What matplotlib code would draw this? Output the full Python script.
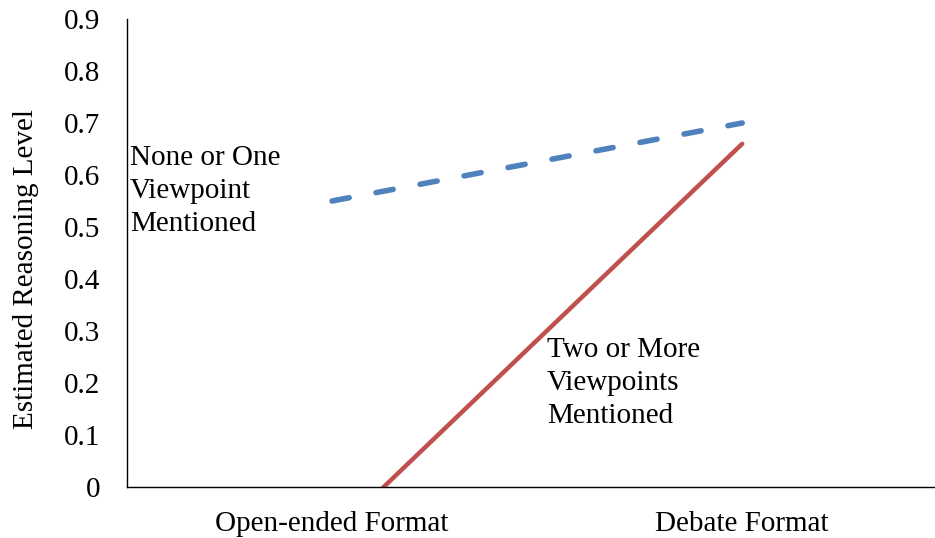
import matplotlib.pyplot as plt

plt.rcParams['font.family'] = ['Liberation Serif', 'DejaVu Serif']

formats = ['Open-ended Format', 'Debate Format']
none_or_one = [0.55, 0.70]
two_or_more = [-0.095, 0.66]
yticks = [0, 0.1, 0.2, 0.3, 0.4, 0.5, 0.6, 0.7, 0.8, 0.9]
ytick_labels = ['0', '0.1', '0.2', '0.3', '0.4', '0.5', '0.6', '0.7', '0.8', '0.9']

fs = 21

fig = plt.figure(figsize=(9.35, 5.38), dpi=100)
ax = fig.add_axes([0.1358, 0.0948, 0.8642, 0.8699])

x = list(range(len(formats)))
ax.plot(x, none_or_one, color='#4F81BD', linewidth=4.0,
        linestyle=(0, (3.13, 4.93)), dash_capstyle='round')
ax.plot(x, two_or_more, color='#C0504D', linewidth=3.2,
        solid_capstyle='round')

ax.set_xlim(-0.5, 1.47)
ax.set_ylim(0, 0.9)
ax.set_xticks(x)
ax.set_xticklabels(formats, fontsize=fs)
ax.set_yticks(yticks)
ax.set_yticklabels(ytick_labels, fontsize=fs)
ax.tick_params(length=0)
ax.tick_params(axis='y', pad=19)
ax.tick_params(axis='x', pad=17)

for side in ['top', 'right']:
    ax.spines[side].set_visible(False)
for side in ['left', 'bottom']:
    ax.spines[side].set_linewidth(1.0)
    ax.spines[side].set_color('black')

ax.set_ylabel('Estimated Reasoning Level', fontsize=fs)
ax.yaxis.set_label_coords(-0.109, 0.466)

ax.text(-0.493, 0.658, 'None or One\nViewpoint\nMentioned', fontsize=fs,
        va='top', ha='left', linespacing=1.35)
ax.text(0.524, 0.289, 'Two or More\nViewpoints\nMentioned', fontsize=fs,
        va='top', ha='left', linespacing=1.35)

fig.savefig('out.png', dpi=100)
